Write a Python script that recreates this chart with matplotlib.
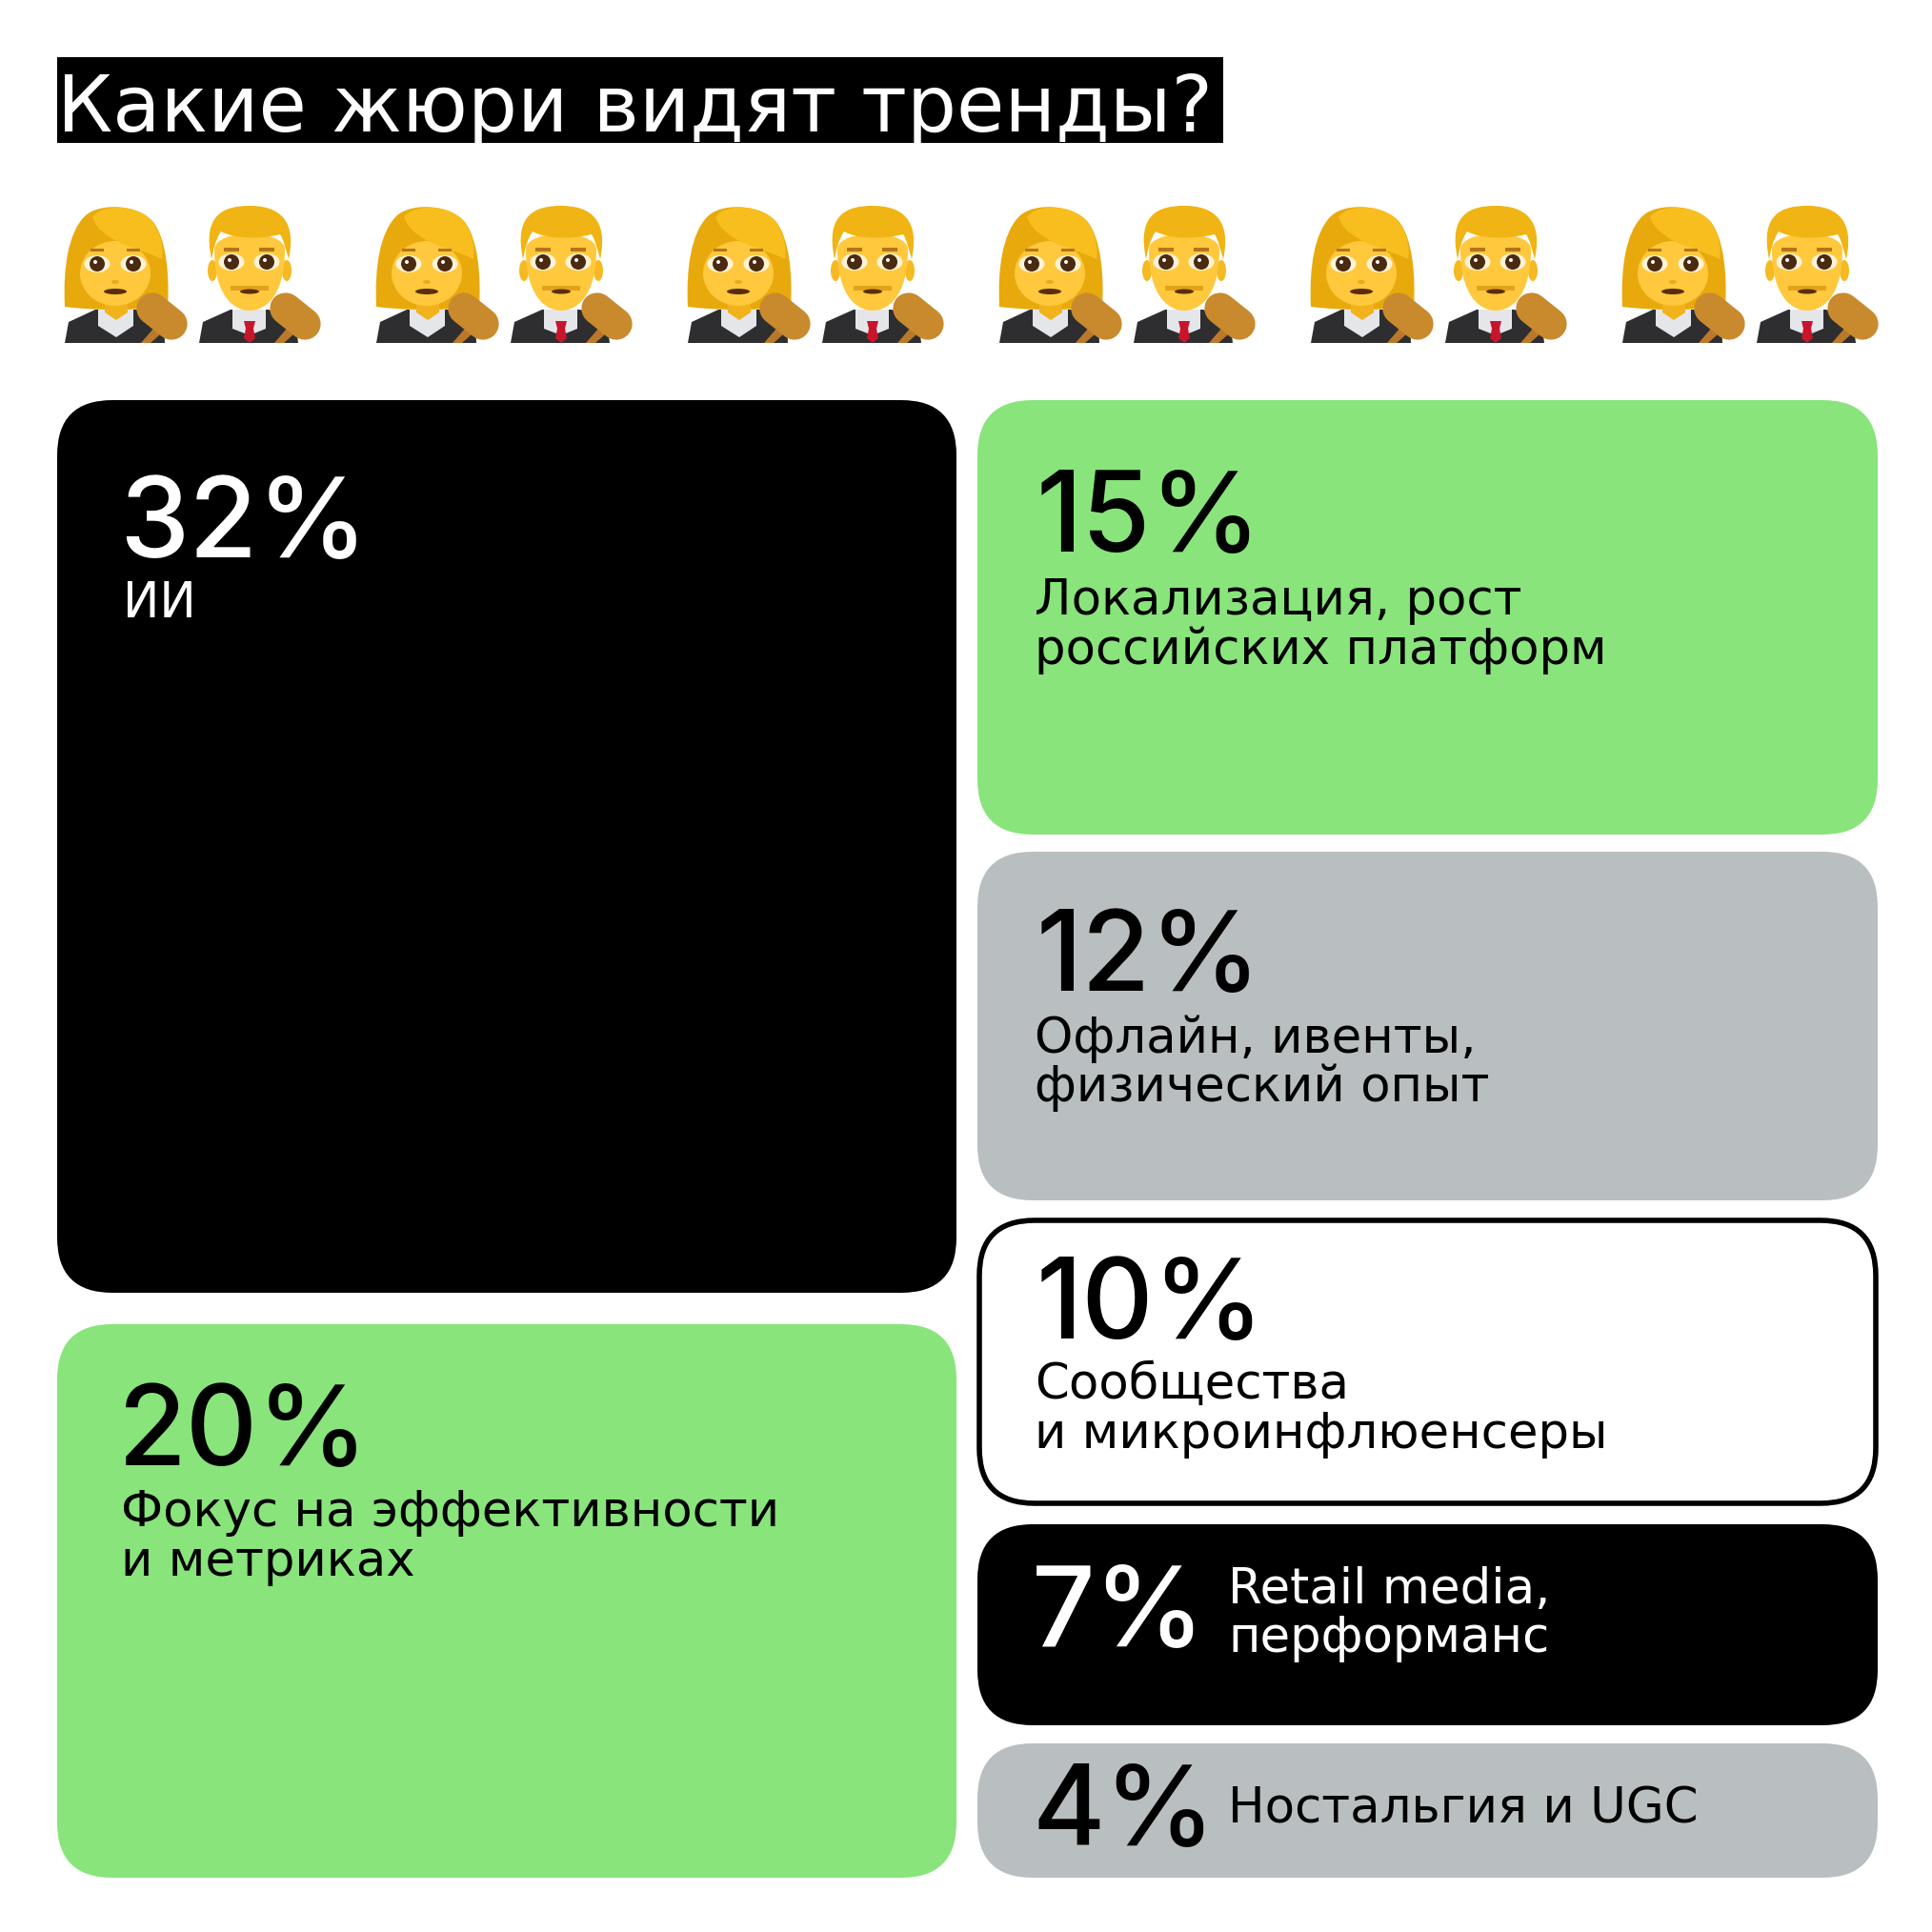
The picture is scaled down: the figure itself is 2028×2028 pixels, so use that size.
import matplotlib
matplotlib.use("Agg")
import matplotlib.pyplot as plt
from matplotlib.patches import FancyBboxPatch, Rectangle, Ellipse, Polygon, PathPatch, Circle
from matplotlib.path import Path
from matplotlib.transforms import Affine2D

# данные
title = "Какие жюри видят тренды?"
shares = [32, 20, 15, 12, 10, 7, 4]
labels = [
    ["ИИ"],
    ["Фокус на эффективности", "и метриках"],
    ["Локализация, рост", "российских платформ"],
    ["Офлайн, ивенты,", "физический опыт"],
    ["Сообщества", "и микроинфлюенсеры"],
    ["Retail media,", "перформанс"],
    ["Ностальгия и UGC"],
]

GREEN = "#88E47B"
GREY = "#B9BFC0"
NUM_FONT = ["Inter", "DejaVu Sans"]
TXT_FONT = ["DejaVu Sans"]

# x0, y0, x1, y1, заливка, цвет текста
boxes = [
    (60, 420, 1004, 1357, "black", "white"),
    (60, 1390, 1004, 1971, GREEN, "black"),
    (1026, 420, 1971, 876, GREEN, "black"),
    (1026, 894, 1971, 1260, GREY, "black"),
    (1028, 1281, 1969, 1578, "white", "black"),
    (1026, 1600, 1971, 1811, "black", "white"),
    (1026, 1830, 1971, 1971, GREY, "black"),
]
# x и базовая линия процента, x и базовые линии подписи
text_pos = [
    (125, 585, 129, [648]),
    (124, 1538, 127, [1602, 1654]),
    (1088, 579, 1086, [645, 697]),
    (1088, 1040, 1086, [1105, 1156]),
    (1088, 1405, 1086, [1468, 1520]),
    (1083, 1728, 1289, [1683, 1734]),
    (1083, 1937, 1289, [1914]),
]
pair_shift = [0, 327, 654, 981, 1308, 1635]

fig = plt.figure(figsize=(20.28, 20.28), dpi=100, facecolor="white")
ax = fig.add_axes([0, 0, 1, 1])
ax.set_xlim(0, 2028)
ax.set_ylim(2028, 0)
ax.axis("off")


def shape(start, segs, color, tr):
    # замкнутая фигура из кубических кривых
    verts = [start]
    codes = [Path.MOVETO]
    for seg in segs:
        verts.extend(seg)
        codes.extend([Path.CURVE4] * 3)
    ax.add_patch(PathPatch(Path(verts, codes), fc=color, ec="none", transform=tr))


def poly(points, color, tr):
    ax.add_patch(Polygon(points, fc=color, ec="none", transform=tr))


def eyes(x1, x2, y, tr):
    for x in (x1, x2):
        ax.add_patch(Ellipse((x, y), 27, 18, fc="#FFF3D6", ec="none", transform=tr))
        ax.add_patch(Circle((x, y), 8, fc="#4A2A10", ec="none", transform=tr))
        ax.add_patch(Circle((x - 2, y - 2), 2, fc="white", ec="none", transform=tr))


def gavel(dx, tr):
    poly([(167 + dx, 338), (176 + dx, 344), (158 + dx, 360), (148 + dx, 360)], "#B9782A", tr)
    ax.plot([160 + dx, 180 + dx], [324, 340], color="#C98A2E", lw=24, solid_capstyle="round", transform=tr)
    ax.add_patch(Circle((158 + dx, 322), 14, fc="#D9A04A", ec="none", transform=tr))


def woman(tr):
    shape((68, 322), [[(66, 280), (72, 245), (88, 228)],
                      [(100, 214), (140, 212), (160, 232)],
                      [(175, 250), (178, 290), (176, 322)],
                      [(140, 326), (100, 326), (68, 322)]], "#E8A90C", tr)
    poly([(68, 360), (72, 338), (100, 325), (143, 325), (172, 336), (173, 360)], "#2E2E30", tr)
    poly([(103, 325), (140, 325), (140, 342), (122, 354), (103, 342)], "#E4E6EA", tr)
    poly([(110, 316), (134, 316), (134, 328), (122, 336), (110, 328)], "#F2B21B", tr)
    ax.add_patch(Ellipse((121, 287), 74, 68, fc="#FFC83D", ec="none", transform=tr))
    shape((97, 228), [[(105, 215), (140, 213), (158, 230)],
                      [(170, 245), (172, 262), (170, 272)],
                      [(150, 262), (125, 258), (110, 245)],
                      [(103, 240), (100, 235), (97, 228)]], "#F7BE1E", tr)
    eyes(102, 140, 277, tr)
    for x in (102, 140):
        ax.add_patch(Rectangle((x - 7, 261), 14, 3, fc="#B5741A", ec="none", transform=tr))
    ax.add_patch(Ellipse((121, 306), 24, 6, fc="#5A2E0A", ec="none", transform=tr))
    ax.add_patch(Ellipse((121, 296), 8, 4, fc="#EBA820", ec="none", transform=tr))
    gavel(0, tr)


def man(tr):
    poly([(209, 360), (213, 338), (242, 325), (282, 325), (310, 336), (313, 360)], "#2E2E30", tr)
    poly([(244, 325), (279, 325), (279, 345), (262, 352), (244, 345)], "#E4E6EA", tr)
    poly([(256, 337), (268, 337), (266, 345), (268, 355), (262, 360), (256, 355), (258, 345)], "#C8152B", tr)
    ax.add_patch(Ellipse((223, 284), 10, 22, fc="#F5B921", ec="none", transform=tr))
    ax.add_patch(Ellipse((301, 284), 10, 22, fc="#F5B921", ec="none", transform=tr))
    shape((225, 262), [[(225, 310), (245, 326), (262, 326)],
                       [(279, 326), (299, 310), (299, 262)],
                       [(299, 240), (225, 240), (225, 262)]], "#FFC83D", tr)
    shape((222, 272), [[(212, 225), (235, 216), (262, 216)],
                       [(292, 216), (312, 230), (303, 272)],
                       [(300, 262), (298, 252), (294, 246)],
                       [(270, 252), (245, 250), (232, 243)],
                       [(226, 252), (224, 262), (222, 272)]], "#F0B514", tr)
    eyes(243, 280, 275, tr)
    for x in (243, 280):
        ax.add_patch(Rectangle((x - 8, 260), 16, 4, fc="#B5741A", ec="none", transform=tr))
    ax.add_patch(Rectangle((242, 300), 40, 5, fc="#E2A21E", ec="none", transform=tr))
    ax.add_patch(Ellipse((262, 306), 20, 5, fc="#5A2E0A", ec="none", transform=tr))
    gavel(140, tr)


# заголовок
ax.add_patch(Rectangle((60, 60), 1224, 90, fc="black", ec="none"))
ax.text(60, 138, title, color="white", fontsize=59, family=TXT_FONT, va="baseline", ha="left")

# судьи
for dx in pair_shift:
    tr = Affine2D().translate(dx, 0) + ax.transData
    woman(tr)
    man(tr)

# карточки
for i, share in enumerate(shares):
    x0, y0, x1, y1, fill, ink = boxes[i]
    edge = "black" if fill == "white" else "none"
    lw = 4 if fill == "white" else 0
    rad = 58
    ax.add_patch(FancyBboxPatch((x0 + rad, y0 + rad), x1 - x0 - 2 * rad, y1 - y0 - 2 * rad,
                                boxstyle="round,pad=%f,rounding_size=%f" % (rad, rad),
                                fc=fill, ec=edge, lw=lw))
    px, py, lx, lys = text_pos[i]
    ax.text(px, py, "%d%%" % share, color=ink, fontsize=84, fontweight=500, family=NUM_FONT,
            va="baseline", ha="left")
    for line, ly in zip(labels[i], lys):
        ax.text(lx, ly, line, color=ink, fontsize=37, family=TXT_FONT, va="baseline", ha="left")

fig.savefig("out.png", dpi=100, facecolor="white")
